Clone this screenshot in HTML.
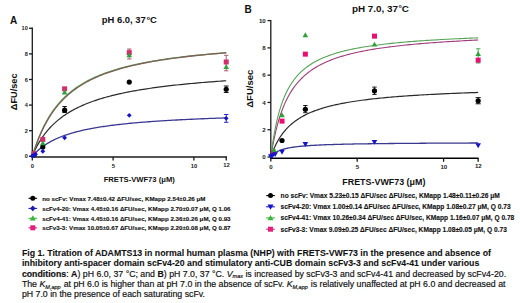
<!DOCTYPE html>
<html><head><meta charset="utf-8"><style>
html,body{margin:0;padding:0;background:#fff;width:520px;height:303px;overflow:hidden}
svg{display:block}
text,tspan{font-family:"Liberation Sans",sans-serif}
</style></head><body>
<svg width="520" height="303" viewBox="0 0 520 303">
<rect width="520" height="303" fill="#fff"/>
<g stroke="#1a1a1a" stroke-width="1.3" fill="none">
<path d="M32.3,27.6 V160.4"/>
<path d="M31.6,157 H227"/>
<path d="M29,156.30 H32.3"/>
<path d="M29,130.70 H32.3"/>
<path d="M29,105.10 H32.3"/>
<path d="M29,79.50 H32.3"/>
<path d="M29,53.90 H32.3"/>
<path d="M29,28.30 H32.3"/>
<path d="M113.10,157 V160.6"/>
<path d="M193.90,157 V160.6"/>
<path d="M226.22,157 V160.6"/>
</g>
<g font-weight="bold" font-size="5.6" fill="#222" text-anchor="end">
<text x="27.8" y="158.30">0</text>
<text x="27.8" y="132.70">2</text>
<text x="27.8" y="107.10">4</text>
<text x="27.8" y="81.50">6</text>
<text x="27.8" y="55.90">8</text>
<text x="27.8" y="30.30">10</text>
</g>
<g font-weight="bold" font-size="5.85" fill="#222" text-anchor="middle">
<text x="32.50" y="167.7">0</text>
<text x="113.30" y="167.8">5</text>
<text x="194.10" y="167.6">10</text>
<text x="226.42" y="166.5">12</text>
</g>
<path d="M32.30,156.30 L32.31,156.29 L32.33,156.26 L32.37,156.22 L32.42,156.16 L32.49,156.08 L32.57,155.98 L32.67,155.87 L32.78,155.74 L32.91,155.59 L33.06,155.43 L33.22,155.25 L33.39,155.05 L33.58,154.84 L33.78,154.62 L34.00,154.38 L34.24,154.13 L34.49,153.86 L34.75,153.58 L35.03,153.29 L35.33,152.99 L35.64,152.68 L35.97,152.35 L36.31,152.02 L36.66,151.68 L37.03,151.33 L37.42,150.97 L37.82,150.60 L38.24,150.23 L38.67,149.85 L39.12,149.46 L39.58,149.07 L40.06,148.68 L40.55,148.28 L41.06,147.87 L41.58,147.47 L42.12,147.06 L42.67,146.65 L43.24,146.23 L43.82,145.82 L44.42,145.40 L45.03,144.99 L45.66,144.57 L46.31,144.15 L46.97,143.74 L47.64,143.32 L48.33,142.91 L49.03,142.49 L49.75,142.08 L50.49,141.67 L51.24,141.27 L52.00,140.86 L52.78,140.46 L53.58,140.06 L54.39,139.67 L55.21,139.27 L56.06,138.88 L56.91,138.50 L57.78,138.12 L58.67,137.74 L59.57,137.36 L60.49,136.99 L61.42,136.63 L62.37,136.26 L63.33,135.90 L64.30,135.55 L65.30,135.20 L66.30,134.86 L67.33,134.52 L68.36,134.18 L69.42,133.85 L70.49,133.52 L71.57,133.20 L72.67,132.88 L73.78,132.56 L74.91,132.25 L76.05,131.95 L77.21,131.65 L78.39,131.35 L79.58,131.06 L80.78,130.77 L82.00,130.49 L83.23,130.21 L84.48,129.93 L85.75,129.66 L87.03,129.40 L88.32,129.13 L89.64,128.88 L90.96,128.62 L92.30,128.37 L93.66,128.12 L95.03,127.88 L96.41,127.64 L97.82,127.41 L99.23,127.18 L100.66,126.95 L102.11,126.73 L103.57,126.51 L105.05,126.29 L106.54,126.08 L108.05,125.87 L109.57,125.66 L111.11,125.46 L112.66,125.26 L114.23,125.06 L115.81,124.87 L117.41,124.68 L119.03,124.49 L120.65,124.31 L122.30,124.13 L123.96,123.95 L125.63,123.78 L127.32,123.60 L129.03,123.43 L130.74,123.27 L132.48,123.10 L134.23,122.94 L135.99,122.78 L137.77,122.63 L139.57,122.47 L141.38,122.32 L143.21,122.17 L145.05,122.03 L146.90,121.88 L148.77,121.74 L150.66,121.60 L152.56,121.47 L154.48,121.33 L156.41,121.20 L158.36,121.07 L160.32,120.94 L162.29,120.81 L164.29,120.69 L166.29,120.56 L168.32,120.44 L170.35,120.32 L172.41,120.21 L174.48,120.09 L176.56,119.98 L178.66,119.87 L180.77,119.76 L182.90,119.65 L185.04,119.54 L187.20,119.44 L189.38,119.33 L191.56,119.23 L193.77,119.13 L195.99,119.03 L198.22,118.94 L200.47,118.84 L202.74,118.74 L205.02,118.65 L207.31,118.56 L209.62,118.47 L211.95,118.38 L214.29,118.29 L216.65,118.21 L219.02,118.12 L221.40,118.04 L223.80,117.95 L226.22,117.87" stroke="#383890" stroke-width="1.3" fill="none"/>
<path d="M32.30,156.30 L32.31,156.28 L32.33,156.22 L32.37,156.11 L32.42,155.98 L32.49,155.80 L32.57,155.59 L32.67,155.34 L32.78,155.06 L32.91,154.75 L33.06,154.40 L33.22,154.03 L33.39,153.62 L33.58,153.19 L33.78,152.72 L34.00,152.23 L34.24,151.71 L34.49,151.17 L34.75,150.61 L35.03,150.02 L35.33,149.41 L35.64,148.78 L35.97,148.13 L36.31,147.47 L36.66,146.78 L37.03,146.08 L37.42,145.37 L37.82,144.65 L38.24,143.91 L38.67,143.16 L39.12,142.40 L39.58,141.63 L40.06,140.85 L40.55,140.07 L41.06,139.28 L41.58,138.48 L42.12,137.68 L42.67,136.88 L43.24,136.07 L43.82,135.26 L44.42,134.46 L45.03,133.65 L45.66,132.84 L46.31,132.03 L46.97,131.22 L47.64,130.42 L48.33,129.62 L49.03,128.82 L49.75,128.02 L50.49,127.23 L51.24,126.45 L52.00,125.66 L52.78,124.89 L53.58,124.12 L54.39,123.36 L55.21,122.60 L56.06,121.85 L56.91,121.10 L57.78,120.37 L58.67,119.64 L59.57,118.91 L60.49,118.20 L61.42,117.49 L62.37,116.79 L63.33,116.10 L64.30,115.42 L65.30,114.74 L66.30,114.08 L67.33,113.42 L68.36,112.77 L69.42,112.13 L70.49,111.50 L71.57,110.87 L72.67,110.26 L73.78,109.65 L74.91,109.05 L76.05,108.46 L77.21,107.88 L78.39,107.30 L79.58,106.74 L80.78,106.18 L82.00,105.63 L83.23,105.09 L84.48,104.55 L85.75,104.03 L87.03,103.51 L88.32,103.00 L89.64,102.50 L90.96,102.00 L92.30,101.52 L93.66,101.04 L95.03,100.57 L96.41,100.10 L97.82,99.64 L99.23,99.19 L100.66,98.75 L102.11,98.31 L103.57,97.88 L105.05,97.46 L106.54,97.04 L108.05,96.63 L109.57,96.23 L111.11,95.83 L112.66,95.44 L114.23,95.06 L115.81,94.68 L117.41,94.30 L119.03,93.94 L120.65,93.58 L122.30,93.22 L123.96,92.87 L125.63,92.53 L127.32,92.19 L129.03,91.85 L130.74,91.52 L132.48,91.20 L134.23,90.88 L135.99,90.57 L137.77,90.26 L139.57,89.96 L141.38,89.66 L143.21,89.36 L145.05,89.07 L146.90,88.79 L148.77,88.51 L150.66,88.23 L152.56,87.96 L154.48,87.69 L156.41,87.43 L158.36,87.17 L160.32,86.91 L162.29,86.66 L164.29,86.41 L166.29,86.17 L168.32,85.93 L170.35,85.69 L172.41,85.45 L174.48,85.22 L176.56,85.00 L178.66,84.77 L180.77,84.55 L182.90,84.34 L185.04,84.12 L187.20,83.91 L189.38,83.71 L191.56,83.50 L193.77,83.30 L195.99,83.10 L198.22,82.91 L200.47,82.71 L202.74,82.52 L205.02,82.34 L207.31,82.15 L209.62,81.97 L211.95,81.79 L214.29,81.61 L216.65,81.44 L219.02,81.27 L221.40,81.10 L223.80,80.93 L226.22,80.77" stroke="#2a2a2a" stroke-width="1.2" fill="none"/>
<path d="M32.30,156.30 L32.31,156.28 L32.33,156.22 L32.37,156.10 L32.42,155.94 L32.49,155.74 L32.57,155.48 L32.67,155.18 L32.78,154.82 L32.91,154.42 L33.06,153.97 L33.22,153.47 L33.39,152.93 L33.58,152.34 L33.78,151.71 L34.00,151.03 L34.24,150.32 L34.49,149.56 L34.75,148.77 L35.03,147.94 L35.33,147.07 L35.64,146.17 L35.97,145.24 L36.31,144.28 L36.66,143.29 L37.03,142.28 L37.42,141.24 L37.82,140.18 L38.24,139.10 L38.67,138.00 L39.12,136.88 L39.58,135.75 L40.06,134.60 L40.55,133.45 L41.06,132.28 L41.58,131.10 L42.12,129.92 L42.67,128.73 L43.24,127.54 L43.82,126.35 L44.42,125.15 L45.03,123.96 L45.66,122.76 L46.31,121.57 L46.97,120.38 L47.64,119.20 L48.33,118.02 L49.03,116.85 L49.75,115.68 L50.49,114.52 L51.24,113.37 L52.00,112.23 L52.78,111.10 L53.58,109.99 L54.39,108.88 L55.21,107.78 L56.06,106.70 L56.91,105.62 L57.78,104.56 L58.67,103.52 L59.57,102.48 L60.49,101.46 L61.42,100.46 L62.37,99.46 L63.33,98.48 L64.30,97.52 L65.30,96.57 L66.30,95.63 L67.33,94.71 L68.36,93.80 L69.42,92.90 L70.49,92.02 L71.57,91.15 L72.67,90.30 L73.78,89.46 L74.91,88.64 L76.05,87.83 L77.21,87.03 L78.39,86.25 L79.58,85.47 L80.78,84.72 L82.00,83.97 L83.23,83.24 L84.48,82.52 L85.75,81.82 L87.03,81.12 L88.32,80.44 L89.64,79.77 L90.96,79.11 L92.30,78.47 L93.66,77.83 L95.03,77.21 L96.41,76.60 L97.82,76.00 L99.23,75.41 L100.66,74.83 L102.11,74.26 L103.57,73.70 L105.05,73.16 L106.54,72.62 L108.05,72.09 L109.57,71.57 L111.11,71.06 L112.66,70.56 L114.23,70.07 L115.81,69.59 L117.41,69.11 L119.03,68.65 L120.65,68.19 L122.30,67.74 L123.96,67.30 L125.63,66.87 L127.32,66.45 L129.03,66.03 L130.74,65.62 L132.48,65.22 L134.23,64.82 L135.99,64.43 L137.77,64.05 L139.57,63.68 L141.38,63.31 L143.21,62.95 L145.05,62.59 L146.90,62.24 L148.77,61.90 L150.66,61.56 L152.56,61.23 L154.48,60.91 L156.41,60.59 L158.36,60.27 L160.32,59.97 L162.29,59.66 L164.29,59.36 L166.29,59.07 L168.32,58.78 L170.35,58.50 L172.41,58.22 L174.48,57.95 L176.56,57.68 L178.66,57.41 L180.77,57.15 L182.90,56.90 L185.04,56.64 L187.20,56.40 L189.38,56.15 L191.56,55.91 L193.77,55.68 L195.99,55.45 L198.22,55.22 L200.47,54.99 L202.74,54.77 L205.02,54.55 L207.31,54.34 L209.62,54.13 L211.95,53.92 L214.29,53.72 L216.65,53.52 L219.02,53.32 L221.40,53.13 L223.80,52.94 L226.22,52.75" stroke="#5aa85a" stroke-width="1.3" fill="none"/>
<path d="M32.30,156.30 L32.31,156.28 L32.33,156.22 L32.37,156.11 L32.42,155.96 L32.49,155.76 L32.57,155.51 L32.67,155.21 L32.78,154.87 L32.91,154.48 L33.06,154.04 L33.22,153.56 L33.39,153.04 L33.58,152.46 L33.78,151.85 L34.00,151.20 L34.24,150.50 L34.49,149.77 L34.75,149.00 L35.03,148.19 L35.33,147.35 L35.64,146.47 L35.97,145.56 L36.31,144.63 L36.66,143.66 L37.03,142.68 L37.42,141.66 L37.82,140.62 L38.24,139.57 L38.67,138.49 L39.12,137.40 L39.58,136.29 L40.06,135.17 L40.55,134.03 L41.06,132.88 L41.58,131.73 L42.12,130.57 L42.67,129.40 L43.24,128.22 L43.82,127.05 L44.42,125.87 L45.03,124.69 L45.66,123.51 L46.31,122.33 L46.97,121.15 L47.64,119.98 L48.33,118.81 L49.03,117.65 L49.75,116.49 L50.49,115.34 L51.24,114.20 L52.00,113.07 L52.78,111.95 L53.58,110.83 L54.39,109.73 L55.21,108.63 L56.06,107.55 L56.91,106.48 L57.78,105.42 L58.67,104.37 L59.57,103.34 L60.49,102.32 L61.42,101.31 L62.37,100.31 L63.33,99.33 L64.30,98.36 L65.30,97.40 L66.30,96.46 L67.33,95.53 L68.36,94.62 L69.42,93.72 L70.49,92.83 L71.57,91.95 L72.67,91.09 L73.78,90.25 L74.91,89.41 L76.05,88.60 L77.21,87.79 L78.39,87.00 L79.58,86.22 L80.78,85.45 L82.00,84.69 L83.23,83.95 L84.48,83.22 L85.75,82.51 L87.03,81.80 L88.32,81.11 L89.64,80.43 L90.96,79.76 L92.30,79.11 L93.66,78.46 L95.03,77.83 L96.41,77.21 L97.82,76.60 L99.23,75.99 L100.66,75.40 L102.11,74.83 L103.57,74.26 L105.05,73.70 L106.54,73.15 L108.05,72.61 L109.57,72.08 L111.11,71.56 L112.66,71.05 L114.23,70.54 L115.81,70.05 L117.41,69.57 L119.03,69.09 L120.65,68.62 L122.30,68.16 L123.96,67.71 L125.63,67.27 L127.32,66.84 L129.03,66.41 L130.74,65.99 L132.48,65.58 L134.23,65.17 L135.99,64.77 L137.77,64.38 L139.57,64.00 L141.38,63.62 L143.21,63.25 L145.05,62.88 L146.90,62.52 L148.77,62.17 L150.66,61.82 L152.56,61.48 L154.48,61.15 L156.41,60.82 L158.36,60.50 L160.32,60.18 L162.29,59.87 L164.29,59.56 L166.29,59.26 L168.32,58.96 L170.35,58.67 L172.41,58.38 L174.48,58.10 L176.56,57.82 L178.66,57.55 L180.77,57.28 L182.90,57.02 L185.04,56.76 L187.20,56.50 L189.38,56.25 L191.56,56.00 L193.77,55.76 L195.99,55.52 L198.22,55.29 L200.47,55.05 L202.74,54.83 L205.02,54.60 L207.31,54.38 L209.62,54.16 L211.95,53.95 L214.29,53.74 L216.65,53.53 L219.02,53.33 L221.40,53.13 L223.80,52.93 L226.22,52.73" stroke="#7e5e55" stroke-width="1.3" fill="none"/>
<path d="M226.22,114.50 V122.30 M224.02,114.50 H228.42 M224.02,122.30 H228.42" stroke="#1414c8" stroke-width="0.9" fill="none"/>
<path d="M226.22,55.30 V70.80 M224.02,55.30 H228.42 M224.02,70.80 H228.42" stroke="#a05060" stroke-width="0.9" fill="none"/>
<path d="M129.26,49.00 V59.00 M127.06,49.00 H131.46 M127.06,59.00 H131.46" stroke="#a05060" stroke-width="0.9" fill="none"/>
<path d="M64.62,106.50 V112.50 M62.42,106.50 H66.82 M62.42,112.50 H66.82" stroke="#000" stroke-width="0.9" fill="none"/>
<path d="M226.22,86.00 V92.50 M223.82,86.00 H228.62 M223.82,92.50 H228.62" stroke="#000" stroke-width="0.9" fill="none"/>
<circle cx="33.92" cy="154.76" r="2.6" fill="#000"/>
<circle cx="42.80" cy="146.96" r="2.6" fill="#000"/>
<circle cx="64.62" cy="110.22" r="2.6" fill="#000"/>
<circle cx="129.26" cy="82.06" r="2.6" fill="#000"/>
<circle cx="226.22" cy="89.23" r="2.6" fill="#000"/>
<rect x="31.42" y="151.24" width="5.0" height="5.0" fill="#d0306a"/>
<rect x="40.30" y="136.90" width="5.0" height="5.0" fill="#d0306a"/>
<rect x="62.12" y="86.34" width="5.0" height="5.0" fill="#d0306a"/>
<rect x="126.76" y="50.12" width="5.0" height="5.0" fill="#d0306a"/>
<rect x="223.72" y="59.46" width="5.0" height="5.0" fill="#d0306a"/>
<path d="M42.80,140.44 L45.60,145.34 L40.00,145.34Z" fill="#2ea03a"/>
<path d="M64.62,89.50 L67.42,94.40 L61.82,94.40Z" fill="#2ea03a"/>
<path d="M129.26,52.38 L132.06,57.28 L126.46,57.28Z" fill="#2ea03a"/>
<path d="M226.22,64.16 L229.02,69.06 L223.42,69.06Z" fill="#2ea03a"/>
<path d="M32.30,153.64 L34.70,156.04 L32.30,158.44 L29.90,156.04Z" fill="#1414c8"/>
<path d="M33.92,152.62 L36.32,155.02 L33.92,157.42 L31.52,155.02Z" fill="#1414c8"/>
<path d="M35.53,151.85 L37.93,154.25 L35.53,156.65 L33.13,154.25Z" fill="#1414c8"/>
<path d="M42.80,148.91 L45.20,151.31 L42.80,153.71 L40.40,151.31Z" fill="#1414c8"/>
<path d="M64.62,135.34 L67.02,137.74 L64.62,140.14 L62.22,137.74Z" fill="#1414c8"/>
<path d="M129.26,112.94 L131.66,115.34 L129.26,117.74 L126.86,115.34Z" fill="#1414c8"/>
<path d="M226.22,115.88 L228.62,118.28 L226.22,120.68 L223.82,118.28Z" fill="#1414c8"/>
<g stroke="#1a1a1a" stroke-width="1.3" fill="none">
<path d="M270.8,20 V161.5"/>
<path d="M270.1,158.2 H478.6" stroke="#000" stroke-width="1.4"/>
<path d="M267.5,157.00 H270.8"/>
<path d="M267.5,129.72 H270.8"/>
<path d="M267.5,102.44 H270.8"/>
<path d="M267.5,75.16 H270.8"/>
<path d="M267.5,47.88 H270.8"/>
<path d="M267.5,20.60 H270.8"/>
<path d="M357.20,158 V161.8"/>
<path d="M443.60,158 V161.8"/>
<path d="M478.16,158 V161.8"/>
</g>
<g font-weight="bold" font-size="6.2" fill="#222" text-anchor="end">
<text x="265.8" y="159.10">0</text>
<text x="265.8" y="131.82">2</text>
<text x="265.8" y="104.54">4</text>
<text x="265.8" y="77.26">6</text>
<text x="265.8" y="49.98">8</text>
<text x="265.8" y="22.70">10</text>
</g>
<g font-weight="bold" font-size="6.1" fill="#222" text-anchor="middle">
<text x="271.00" y="169">0</text>
<text x="357.40" y="168.8">5</text>
<text x="443.80" y="168.9">10</text>
<text x="478.36" y="168.2">12</text>
</g>
<path d="M270.80,157.00 L270.81,156.99 L270.83,156.96 L270.87,156.91 L270.93,156.83 L271.00,156.74 L271.09,156.63 L271.20,156.50 L271.32,156.35 L271.46,156.19 L271.61,156.01 L271.78,155.82 L271.97,155.62 L272.17,155.40 L272.39,155.18 L272.62,154.95 L272.87,154.71 L273.14,154.47 L273.42,154.22 L273.72,153.96 L274.04,153.71 L274.37,153.45 L274.72,153.20 L275.08,152.94 L275.47,152.68 L275.86,152.43 L276.28,152.18 L276.70,151.93 L277.15,151.69 L277.61,151.44 L278.09,151.21 L278.58,150.98 L279.09,150.75 L279.62,150.52 L280.16,150.31 L280.72,150.09 L281.30,149.89 L281.89,149.68 L282.50,149.49 L283.12,149.30 L283.76,149.11 L284.42,148.93 L285.09,148.75 L285.78,148.58 L286.48,148.41 L287.20,148.25 L287.94,148.10 L288.69,147.95 L289.46,147.80 L290.25,147.66 L291.05,147.52 L291.87,147.39 L292.70,147.26 L293.55,147.13 L294.42,147.01 L295.30,146.89 L296.20,146.78 L297.12,146.67 L298.05,146.56 L299.00,146.45 L299.96,146.35 L300.94,146.26 L301.94,146.16 L302.95,146.07 L303.98,145.98 L305.02,145.90 L306.08,145.81 L307.16,145.73 L308.25,145.65 L309.36,145.58 L310.49,145.50 L311.63,145.43 L312.79,145.36 L313.96,145.29 L315.16,145.23 L316.36,145.16 L317.59,145.10 L318.82,145.04 L320.08,144.98 L321.35,144.93 L322.64,144.87 L323.94,144.82 L325.26,144.77 L326.60,144.72 L327.95,144.67 L329.32,144.62 L330.71,144.57 L332.11,144.53 L333.53,144.48 L334.96,144.44 L336.41,144.40 L337.88,144.36 L339.36,144.32 L340.86,144.28 L342.37,144.24 L343.90,144.21 L345.45,144.17 L347.01,144.14 L348.59,144.10 L350.19,144.07 L351.80,144.04 L353.43,144.01 L355.07,143.97 L356.73,143.94 L358.41,143.92 L360.10,143.89 L361.81,143.86 L363.54,143.83 L365.28,143.81 L367.04,143.78 L368.81,143.76 L370.60,143.73 L372.41,143.71 L374.23,143.68 L376.07,143.66 L377.92,143.64 L379.79,143.62 L381.68,143.59 L383.58,143.57 L385.50,143.55 L387.44,143.53 L389.39,143.51 L391.36,143.49 L393.34,143.48 L395.35,143.46 L397.36,143.44 L399.40,143.42 L401.44,143.40 L403.51,143.39 L405.59,143.37 L407.69,143.35 L409.80,143.34 L411.93,143.32 L414.08,143.31 L416.24,143.29 L418.42,143.28 L420.62,143.26 L422.83,143.25 L425.06,143.24 L427.30,143.22 L429.56,143.21 L431.84,143.20 L434.13,143.18 L436.44,143.17 L438.76,143.16 L441.10,143.15 L443.46,143.14 L445.83,143.12 L448.22,143.11 L450.63,143.10 L453.05,143.09 L455.49,143.08 L457.94,143.07 L460.41,143.06 L462.90,143.05 L465.40,143.04 L467.92,143.03 L470.46,143.02 L473.01,143.01 L475.58,143.00 L478.16,142.99" stroke="#383890" stroke-width="1.3" fill="none"/>
<path d="M270.80,157.00 L270.81,156.97 L270.83,156.90 L270.87,156.78 L270.93,156.60 L271.00,156.39 L271.09,156.12 L271.20,155.82 L271.32,155.46 L271.46,155.07 L271.61,154.64 L271.78,154.17 L271.97,153.66 L272.17,153.12 L272.39,152.54 L272.62,151.94 L272.87,151.30 L273.14,150.64 L273.42,149.95 L273.72,149.24 L274.04,148.50 L274.37,147.75 L274.72,146.98 L275.08,146.20 L275.47,145.40 L275.86,144.59 L276.28,143.77 L276.70,142.95 L277.15,142.11 L277.61,141.27 L278.09,140.43 L278.58,139.59 L279.09,138.74 L279.62,137.90 L280.16,137.05 L280.72,136.21 L281.30,135.38 L281.89,134.55 L282.50,133.72 L283.12,132.90 L283.76,132.09 L284.42,131.28 L285.09,130.48 L285.78,129.70 L286.48,128.92 L287.20,128.15 L287.94,127.39 L288.69,126.64 L289.46,125.90 L290.25,125.18 L291.05,124.46 L291.87,123.76 L292.70,123.06 L293.55,122.38 L294.42,121.71 L295.30,121.05 L296.20,120.41 L297.12,119.77 L298.05,119.15 L299.00,118.54 L299.96,117.94 L300.94,117.35 L301.94,116.77 L302.95,116.21 L303.98,115.65 L305.02,115.11 L306.08,114.58 L307.16,114.05 L308.25,113.54 L309.36,113.04 L310.49,112.55 L311.63,112.07 L312.79,111.60 L313.96,111.13 L315.16,110.68 L316.36,110.24 L317.59,109.81 L318.82,109.38 L320.08,108.97 L321.35,108.56 L322.64,108.16 L323.94,107.77 L325.26,107.39 L326.60,107.02 L327.95,106.65 L329.32,106.29 L330.71,105.94 L332.11,105.60 L333.53,105.26 L334.96,104.93 L336.41,104.61 L337.88,104.29 L339.36,103.98 L340.86,103.68 L342.37,103.38 L343.90,103.09 L345.45,102.81 L347.01,102.53 L348.59,102.25 L350.19,101.99 L351.80,101.72 L353.43,101.47 L355.07,101.22 L356.73,100.97 L358.41,100.73 L360.10,100.49 L361.81,100.26 L363.54,100.03 L365.28,99.81 L367.04,99.59 L368.81,99.37 L370.60,99.16 L372.41,98.96 L374.23,98.75 L376.07,98.56 L377.92,98.36 L379.79,98.17 L381.68,97.98 L383.58,97.80 L385.50,97.62 L387.44,97.44 L389.39,97.27 L391.36,97.10 L393.34,96.93 L395.35,96.77 L397.36,96.61 L399.40,96.45 L401.44,96.29 L403.51,96.14 L405.59,95.99 L407.69,95.85 L409.80,95.70 L411.93,95.56 L414.08,95.42 L416.24,95.28 L418.42,95.15 L420.62,95.02 L422.83,94.89 L425.06,94.76 L427.30,94.64 L429.56,94.51 L431.84,94.39 L434.13,94.28 L436.44,94.16 L438.76,94.04 L441.10,93.93 L443.46,93.82 L445.83,93.71 L448.22,93.60 L450.63,93.50 L453.05,93.40 L455.49,93.29 L457.94,93.19 L460.41,93.09 L462.90,93.00 L465.40,92.90 L467.92,92.81 L470.46,92.72 L473.01,92.63 L475.58,92.54 L478.16,92.45" stroke="#2a2a2a" stroke-width="1.2" fill="none"/>
<path d="M270.80,157.00 L270.81,156.95 L270.83,156.81 L270.87,156.56 L270.93,156.22 L271.00,155.77 L271.09,155.23 L271.20,154.59 L271.32,153.85 L271.46,153.02 L271.61,152.11 L271.78,151.11 L271.97,150.04 L272.17,148.88 L272.39,147.66 L272.62,146.37 L272.87,145.02 L273.14,143.61 L273.42,142.15 L273.72,140.65 L274.04,139.11 L274.37,137.52 L274.72,135.91 L275.08,134.27 L275.47,132.61 L275.86,130.93 L276.28,129.24 L276.70,127.53 L277.15,125.83 L277.61,124.11 L278.09,122.40 L278.58,120.70 L279.09,119.00 L279.62,117.31 L280.16,115.63 L280.72,113.97 L281.30,112.32 L281.89,110.69 L282.50,109.08 L283.12,107.49 L283.76,105.92 L284.42,104.38 L285.09,102.86 L285.78,101.36 L286.48,99.90 L287.20,98.45 L287.94,97.04 L288.69,95.65 L289.46,94.28 L290.25,92.95 L291.05,91.64 L291.87,90.36 L292.70,89.10 L293.55,87.88 L294.42,86.68 L295.30,85.50 L296.20,84.36 L297.12,83.24 L298.05,82.14 L299.00,81.07 L299.96,80.03 L300.94,79.01 L301.94,78.01 L302.95,77.04 L303.98,76.09 L305.02,75.16 L306.08,74.26 L307.16,73.37 L308.25,72.51 L309.36,71.67 L310.49,70.85 L311.63,70.05 L312.79,69.27 L313.96,68.51 L315.16,67.76 L316.36,67.04 L317.59,66.33 L318.82,65.64 L320.08,64.96 L321.35,64.31 L322.64,63.66 L323.94,63.04 L325.26,62.43 L326.60,61.83 L327.95,61.25 L329.32,60.68 L330.71,60.12 L332.11,59.58 L333.53,59.05 L334.96,58.53 L336.41,58.03 L337.88,57.54 L339.36,57.05 L340.86,56.58 L342.37,56.12 L343.90,55.68 L345.45,55.24 L347.01,54.81 L348.59,54.39 L350.19,53.98 L351.80,53.58 L353.43,53.19 L355.07,52.81 L356.73,52.43 L358.41,52.07 L360.10,51.71 L361.81,51.36 L363.54,51.02 L365.28,50.68 L367.04,50.35 L368.81,50.03 L370.60,49.72 L372.41,49.41 L374.23,49.11 L376.07,48.82 L377.92,48.53 L379.79,48.25 L381.68,47.97 L383.58,47.70 L385.50,47.44 L387.44,47.18 L389.39,46.92 L391.36,46.68 L393.34,46.43 L395.35,46.19 L397.36,45.96 L399.40,45.73 L401.44,45.50 L403.51,45.28 L405.59,45.07 L407.69,44.86 L409.80,44.65 L411.93,44.44 L414.08,44.24 L416.24,44.05 L418.42,43.85 L420.62,43.67 L422.83,43.48 L425.06,43.30 L427.30,43.12 L429.56,42.95 L431.84,42.77 L434.13,42.61 L436.44,42.44 L438.76,42.28 L441.10,42.12 L443.46,41.96 L445.83,41.81 L448.22,41.66 L450.63,41.51 L453.05,41.36 L455.49,41.22 L457.94,41.08 L460.41,40.94 L462.90,40.80 L465.40,40.67 L467.92,40.54 L470.46,40.41 L473.01,40.28 L475.58,40.16 L478.16,40.03" stroke="#a03a7a" stroke-width="1.1" fill="none"/>
<path d="M270.80,157.00 L270.81,156.94 L270.83,156.75 L270.87,156.43 L270.93,155.98 L271.00,155.40 L271.09,154.70 L271.20,153.88 L271.32,152.94 L271.46,151.90 L271.61,150.75 L271.78,149.49 L271.97,148.15 L272.17,146.72 L272.39,145.21 L272.62,143.63 L272.87,141.99 L273.14,140.29 L273.42,138.54 L273.72,136.74 L274.04,134.91 L274.37,133.05 L274.72,131.17 L275.08,129.27 L275.47,127.35 L275.86,125.43 L276.28,123.51 L276.70,121.59 L277.15,119.68 L277.61,117.78 L278.09,115.89 L278.58,114.02 L279.09,112.17 L279.62,110.35 L280.16,108.55 L280.72,106.77 L281.30,105.03 L281.89,103.31 L282.50,101.63 L283.12,99.97 L283.76,98.35 L284.42,96.77 L285.09,95.22 L285.78,93.70 L286.48,92.22 L287.20,90.77 L287.94,89.35 L288.69,87.97 L289.46,86.62 L290.25,85.31 L291.05,84.03 L291.87,82.78 L292.70,81.57 L293.55,80.38 L294.42,79.23 L295.30,78.11 L296.20,77.01 L297.12,75.95 L298.05,74.91 L299.00,73.90 L299.96,72.92 L300.94,71.97 L301.94,71.04 L302.95,70.14 L303.98,69.26 L305.02,68.40 L306.08,67.57 L307.16,66.76 L308.25,65.98 L309.36,65.21 L310.49,64.46 L311.63,63.74 L312.79,63.03 L313.96,62.35 L315.16,61.68 L316.36,61.03 L317.59,60.39 L318.82,59.78 L320.08,59.18 L321.35,58.59 L322.64,58.02 L323.94,57.47 L325.26,56.93 L326.60,56.40 L327.95,55.89 L329.32,55.39 L330.71,54.90 L332.11,54.43 L333.53,53.96 L334.96,53.51 L336.41,53.07 L337.88,52.64 L339.36,52.23 L340.86,51.82 L342.37,51.42 L343.90,51.03 L345.45,50.65 L347.01,50.29 L348.59,49.92 L350.19,49.57 L351.80,49.23 L353.43,48.89 L355.07,48.57 L356.73,48.25 L358.41,47.93 L360.10,47.63 L361.81,47.33 L363.54,47.04 L365.28,46.75 L367.04,46.48 L368.81,46.20 L370.60,45.94 L372.41,45.68 L374.23,45.42 L376.07,45.17 L377.92,44.93 L379.79,44.69 L381.68,44.46 L383.58,44.23 L385.50,44.01 L387.44,43.79 L389.39,43.58 L391.36,43.37 L393.34,43.16 L395.35,42.96 L397.36,42.77 L399.40,42.58 L401.44,42.39 L403.51,42.20 L405.59,42.02 L407.69,41.84 L409.80,41.67 L411.93,41.50 L414.08,41.33 L416.24,41.17 L418.42,41.01 L420.62,40.85 L422.83,40.70 L425.06,40.55 L427.30,40.40 L429.56,40.25 L431.84,40.11 L434.13,39.97 L436.44,39.83 L438.76,39.70 L441.10,39.57 L443.46,39.44 L445.83,39.31 L448.22,39.18 L450.63,39.06 L453.05,38.94 L455.49,38.82 L457.94,38.70 L460.41,38.59 L462.90,38.48 L465.40,38.37 L467.92,38.26 L470.46,38.15 L473.01,38.05 L475.58,37.94 L478.16,37.84" stroke="#56a256" stroke-width="1.1" fill="none"/>
<path d="M305.36,105.50 V112.70 M303.16,105.50 H307.56 M303.16,112.70 H307.56" stroke="#000" stroke-width="0.9" fill="none"/>
<path d="M374.48,87.10 V94.40 M372.28,87.10 H376.68 M372.28,94.40 H376.68" stroke="#000" stroke-width="0.9" fill="none"/>
<path d="M478.16,48.80 V63.00 M475.96,48.80 H480.36 M475.96,63.00 H480.36" stroke="#2ea03a" stroke-width="0.9" fill="none"/>
<path d="M478.16,97.60 V103.80 M475.56,97.60 H480.76 M475.56,103.80 H480.76" stroke="#000" stroke-width="0.9" fill="none"/>
<circle cx="282.03" cy="140.50" r="2.6" fill="#000"/>
<circle cx="305.36" cy="109.26" r="2.6" fill="#000"/>
<circle cx="374.48" cy="90.85" r="2.6" fill="#000"/>
<circle cx="478.16" cy="100.80" r="2.6" fill="#000"/>
<rect x="270.89" y="150.41" width="5.0" height="5.0" fill="#e8106e"/>
<rect x="279.53" y="118.63" width="5.0" height="5.0" fill="#e8106e"/>
<rect x="302.86" y="51.65" width="5.0" height="5.0" fill="#e8106e"/>
<rect x="371.98" y="33.65" width="5.0" height="5.0" fill="#e8106e"/>
<rect x="475.66" y="57.66" width="5.0" height="5.0" fill="#e8106e"/>
<path d="M274.26,147.38 L277.06,152.28 L271.46,152.28Z" fill="#2ea03a"/>
<path d="M282.03,112.33 L284.83,117.23 L279.23,117.23Z" fill="#2ea03a"/>
<path d="M305.36,32.26 L308.16,37.16 L302.56,37.16Z" fill="#2ea03a"/>
<path d="M374.48,41.67 L377.28,46.57 L371.68,46.57Z" fill="#2ea03a"/>
<path d="M478.16,51.22 L480.96,56.12 L475.36,56.12Z" fill="#2ea03a"/>
<path d="M268.00,154.22 L273.60,154.22 L270.80,159.12Z" fill="#1414c8"/>
<path d="M269.73,153.26 L275.33,153.26 L272.53,158.16Z" fill="#1414c8"/>
<path d="M272.32,152.17 L277.92,152.17 L275.12,157.07Z" fill="#1414c8"/>
<path d="M279.23,149.85 L284.83,149.85 L282.03,154.75Z" fill="#1414c8"/>
<path d="M302.56,142.08 L308.16,142.08 L305.36,146.98Z" fill="#1414c8"/>
<path d="M371.68,139.90 L377.28,139.90 L374.48,144.80Z" fill="#1414c8"/>
<path d="M475.36,143.31 L480.96,143.31 L478.16,148.21Z" fill="#1414c8"/>
<g font-weight="bold" fill="#111">
<text x="10" y="24" font-size="10">A</text>
<text x="244.5" y="13.3" font-size="10">B</text>
<text x="101.8" y="22.7" font-size="9.45">pH 6.0, 37<tspan dx="0.5">°</tspan><tspan dx="-0.2">C</tspan></text>
<text x="351.9" y="11.8" font-size="9.9">pH 7.0, 37<tspan dx="0.6" font-size="8.5" dy="-0.5">°</tspan><tspan dx="-0.3" dy="0.5">C</tspan></text>
<text x="103.7" y="182.4" font-size="7.62" textLength="71.1" lengthAdjust="spacingAndGlyphs">FRETS-VWF73 (μM)</text>
<text x="342.3" y="185.4" font-size="8.9" textLength="83.1" lengthAdjust="spacingAndGlyphs">FRETS-VWF73 (μM)</text>
<text transform="translate(16.6,91.8) rotate(-90)" font-size="9.2" text-anchor="middle">ΔFU/sec</text>
<text transform="translate(253.2,88.7) rotate(-90)" font-size="9.55" text-anchor="middle">ΔFU/sec</text>
</g>
<g font-weight="bold" fill="#111">
<path d="M28.50,198.30 H37.10" stroke="#000" stroke-width="1.1"/><circle cx="32.80" cy="198.30" r="2.5" fill="#000"/>
<text x="42.2" y="200.60" font-size="6.2" stroke="#111" stroke-width="0.12">no scFv: Vmax 7.48±0.42 ΔFU/sec, KMapp 2.54±0.26 μM</text>
<path d="M28.50,208.40 H37.10" stroke="#1c1cb0" stroke-width="1.1"/><path d="M32.80,205.60 L35.60,208.40 L32.80,211.20 L30.00,208.40Z" fill="#1c1cb0"/>
<text x="42.2" y="210.70" font-size="6.2" stroke="#111" stroke-width="0.12">scFv4-20: Vmax 4.45±0.16 ΔFU/sec, KMapp 2.70±0.07 μM, Q 1.06</text>
<path d="M28.50,218.30 H37.10" stroke="#3cb43c" stroke-width="1.1"/><path d="M32.80,215.30 L35.80,220.55 L29.80,220.55Z" fill="#3cb43c"/>
<text x="42.2" y="220.60" font-size="6.2" stroke="#111" stroke-width="0.12">scFv4-41: Vmax 4.45±0.16 ΔFU/sec, KMapp 2.36±0.26 μM, Q 0.93</text>
<path d="M28.50,227.80 H37.10" stroke="#e0207a" stroke-width="1.1"/><rect x="30.30" y="225.30" width="5.0" height="5.0" fill="#e0207a"/>
<text x="42.2" y="230.10" font-size="6.2" stroke="#111" stroke-width="0.12">scFv3-3: Vmax 10.05±0.67 ΔFU/sec, KMapp 2.20±0.08 μM, Q 0.87</text>
<path d="M266.20,195.60 H274.80" stroke="#000" stroke-width="1.1"/><circle cx="270.50" cy="195.60" r="2.5" fill="#000"/>
<text x="280.6" y="197.90" font-size="6.64" stroke="#111" stroke-width="0.12">no scFv: Vmax 5.23±0.15 ΔFU/sec ΔFU/sec, KMapp 1.48±0.11±0.26 μM</text>
<path d="M266.20,206.80 H274.80" stroke="#1414c8" stroke-width="1.1"/><path d="M267.50,204.55 L273.50,204.55 L270.50,209.80Z" fill="#1414c8"/>
<text x="280.6" y="209.10" font-size="6.64" stroke="#111" stroke-width="0.12">scFv4-20: Vmax 1.00±0.14 ΔFU/sec ΔFU/sec, KMapp 1.08±0.27 μM, Q 0.73</text>
<path d="M266.20,217.90 H274.80" stroke="#3cb43c" stroke-width="1.1"/><path d="M270.50,214.90 L273.50,220.15 L267.50,220.15Z" fill="#3cb43c"/>
<text x="280.6" y="220.20" font-size="6.64" stroke="#111" stroke-width="0.12">scFv4-41: Vmax 10.26±0.34 ΔFU/sec ΔFU/sec, KMapp 1.16±0.07 μM, Q 0.78</text>
<path d="M266.20,229.20 H274.80" stroke="#e0207a" stroke-width="1.1"/><rect x="268.00" y="226.70" width="5.0" height="5.0" fill="#e0207a"/>
<text x="280.6" y="231.50" font-size="6.64" stroke="#111" stroke-width="0.12">scFv3-3: Vmax 9.09±0.25 ΔFU/sec ΔFU/sec, KMapp 1.08±0.05 μM, Q 0.73</text>
</g>
<g font-size="8.77" fill="#111" stroke="#111" stroke-width="0.18">
<text x="21.9" y="256.20" font-weight="bold" stroke-width="0.08">Fig 1. Titration of ADAMTS13 in normal human plasma (NHP) with FRETS-VWF73 in the presence and absence of</text>
<text x="21.9" y="266.37" font-weight="bold" stroke-width="0.08">inhibitory anti-spacer domain scFv4-20 and stimulatory anti-CUB domain scFv3-3 and scFv4-41 under various</text>
<text x="21.9" y="276.54"><tspan font-weight="bold">conditions</tspan>: <tspan font-weight="bold">A</tspan>) pH 6.0, 37 °C; and <tspan font-weight="bold">B</tspan>) pH 7.0, 37 °C. <tspan font-style="italic">V</tspan><tspan font-style="italic" font-size="5.5" dy="1.9">max</tspan><tspan dy="-1.9"> is increased by scFv3-3 and scFv4-41 and decreased by scFv4-20.</tspan></text>
<text x="21.9" y="286.71">The <tspan font-style="italic">K</tspan><tspan font-style="italic" font-size="5.5" dy="1.9">M,app</tspan><tspan dy="-1.9" dx="0.6"> at pH 6.0 is higher than at pH 7.0 in the absence of scFv. </tspan><tspan font-style="italic">K</tspan><tspan font-style="italic" font-size="5.5" dy="1.9">M,app</tspan><tspan dy="-1.9" dx="0.5"> is relatively unaffected at pH 6.0 and decreased at</tspan></text>
<text x="21.9" y="296.88">pH 7.0 in the presence of each saturating scFv.</text>
</g>
</svg>
</body></html>
